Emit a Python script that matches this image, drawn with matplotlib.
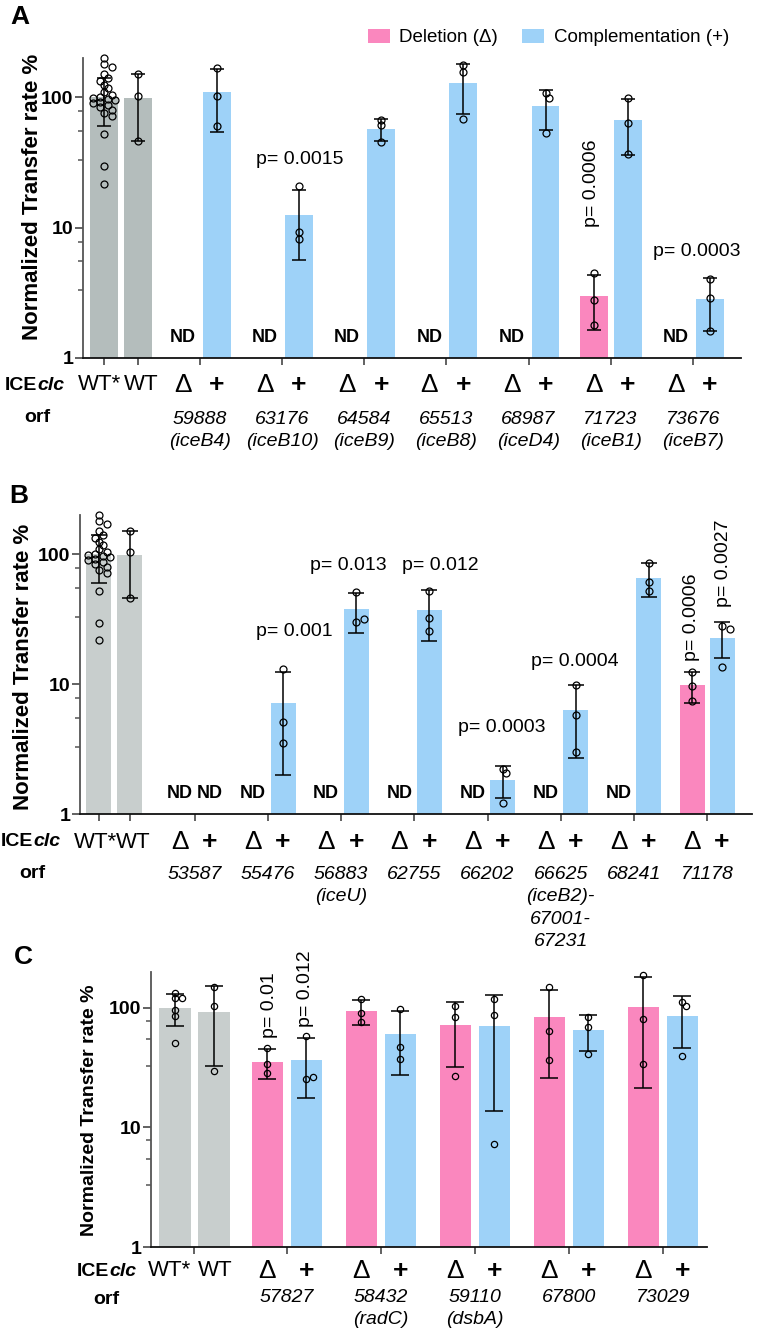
import numpy as np
import matplotlib
matplotlib.use("Agg")
import matplotlib.pyplot as plt
from matplotlib.patches import Patch
from matplotlib.ticker import FixedLocator, NullFormatter

plt.rcParams['font.family'] = ['Liberation Sans', 'DejaVu Sans']

ND = np.nan

# wild type controls (panels A and B share them)
wt_star_pts = [199, 180, 172, 150, 140, 133, 125, 117, 110, 104, 101, 99, 97,
               95, 92, 90, 87, 84, 80, 76, 72, 52, 29.5, 21.7]
wt_star_mean, wt_star_sd = 100, 40
wt_pts = [150, 103, 46]
wt_mean, wt_sd = 98, 52

# panel A
a_orf = ["59888\n(iceB4)", "63176\n(iceB10)", "64584\n(iceB9)", "65513\n(iceB8)",
         "68987\n(iceD4)", "71723\n(iceB1)", "73676\n(iceB7)"]
a_del_mean = [ND, ND, ND, ND, ND, 3.0, ND]
a_del_sd = [0, 0, 0, 0, 0, 1.36, 0]
a_del_pts = [[], [], [], [], [], [4.5, 2.8, 1.8], []]
a_comp_mean = [110, 12.6, 57, 128, 85, 66.5, 2.85]
a_comp_sd = [56, 7, 11, 53, 29, 30.5, 1.23]
a_comp_pts = [[167, 102, 60], [20.7, 9.3, 8.2], [67, 61, 45], [178, 156, 68],
              [107, 98, 53], [98, 64, 37], [4.05, 2.9, 1.6]]
a_pvals = ["p= 0.0015", "p= 0.0006", "p= 0.0003"]

# panel B
b_orf = ["53587", "55476", "56883\n(iceU)", "62755", "66202",
         "66625\n(iceB2)-\n67001-\n67231", "68241", "71178"]
b_del_mean = [ND, ND, ND, ND, ND, ND, ND, 9.8]
b_del_sd = [0, 0, 0, 0, 0, 0, 0, 2.6]
b_del_pts = [[], [], [], [], [], [], [], [12.3, 9.6, 7.4]]
b_comp_mean = [ND, 7.2, 37.5, 37, 1.83, 6.3, 66, 22.8]
b_comp_sd = [0, 5.2, 13, 15.7, 0.5, 3.6, 19, 7]
b_comp_pts = [[], [13.1, 5.1, 3.5], [51, 30, 31.5], [52, 32, 25.4], [2.23, 2.07, 1.22],
              [9.9, 5.8, 3.0], [86, 61, 52], [27.8, 26.3, 13.6]]
b_pvals = ["p= 0.001", "p= 0.013", "p= 0.012", "p= 0.0003", "p= 0.0004",
           "p= 0.0006", "p= 0.0027"]

# panel C
c_wt_star_pts = [133, 121, 121, 96, 86, 51]
c_wt_star_mean, c_wt_star_sd = 100, 30
c_wt_pts = [151, 104, 29.7]
c_wt_mean, c_wt_sd = 93, 60
c_orf = ["57827", "58432\n(radC)", "59110\n(dsbA)", "67800", "73029"]
c_del_mean = [35.3, 94.4, 72, 84, 101.6]
c_del_sd = [9.7, 22, 40, 58, 80]
c_del_pts = [[46, 34, 28.6], [118, 91, 76], [104, 84, 27], [150, 64, 36.7], [188, 81, 34]]
c_comp_mean = [36.7, 60.6, 70.7, 65.5, 86]
c_comp_sd = [19, 33, 57, 21.6, 40]
c_comp_pts = [[58, 25.4, 26.4], [98, 47, 37.5], [118, 87.6, 7.3], [84, 69, 41], [112, 104, 39.7]]
c_pvals = ["p= 0.01", "p= 0.012"]

PINK = '#FA87BE'
BLUE = '#9ED2F8'

W, H = 758, 1332
fig = plt.figure(figsize=(W / 100, H / 100), dpi=100)


def px_axes(l, t, r, b):
    return fig.add_axes([l / W, 1 - b / H, (r - l) / W, (b - t) / H])


def ftext(x, y, s, **kw):
    fig.text(x / W, 1 - y / H, s, **kw)


def swarm(ax, x, vals, d):
    tr = ax.transData
    x0 = tr.transform((x, 1))[0]
    placed, xs = [], []
    for v in vals:
        y = tr.transform((x, v))[1]
        for k in [0, 1, -1, 2, -2, 3, -3, 4, -4, 5, -5]:
            cx = x0 + k * d * 0.45
            if all(np.hypot(cx - px, y - py) >= 0.6 * d for px, py in placed):
                break
        placed.append((cx, y))
        xs.append(tr.inverted().transform((cx, y))[0])
    return xs


def below(ax, x, s, off_px, **kw):
    ax.annotate(s, (x, 0), xycoords=('data', 'axes fraction'),
                xytext=(0, -off_px * 0.72), textcoords='offset points',
                ha='center', annotation_clip=False, **kw)


def draw_panel(ax, xlim, wt_x, wt_lab_x, wt_names, wt_sets, grey, centers, ticks, width,
               ms, cap, orf, dmean, dsd, dpts, cmean, csd, cpts, r1, r2):
    ax.set_yscale('log')
    ax.set_xlim(*xlim)
    ax.set_ylim(1, 200)
    scat = []

    def one(x, m, s, p, color):
        if np.isnan(m):
            ax.annotate('ND', (x, 0), xycoords=('data', 'axes fraction'),
                        xytext=(0, 14.5), textcoords='offset points', ha='center',
                        va='center', fontsize=13, fontweight='bold')
            return
        ax.bar(x, m, width=width, color=color, zorder=1)
        ax.errorbar(x, m, yerr=s, color='black', capsize=cap, elinewidth=1.1,
                    capthick=1.1, zorder=3)
        scat.append((x, p))

    for x, (m, s, p) in zip(wt_x, wt_sets):
        one(x, m, s, p, grey)
    for i, c in enumerate(centers):
        one(c - 0.5, dmean[i], dsd[i], dpts[i], PINK)
        one(c + 0.5, cmean[i], csd[i], cpts[i], BLUE)

    for side in ['top', 'right']:
        ax.spines[side].set_visible(False)
    ax.spines['left'].set_color('#555555')
    ax.spines['bottom'].set_color('#111111')
    for side in ['left', 'bottom']:
        ax.spines[side].set_linewidth(1.3)
    ax.set_yticks([1, 10, 100])
    ax.set_yticklabels(['1', '10', '100'], fontweight='bold', fontsize=14)
    ax.yaxis.set_minor_locator(FixedLocator([3.3, 5.5, 7.8, 33, 55, 78]))
    ax.yaxis.set_minor_formatter(NullFormatter())
    ax.tick_params(axis='y', which='major', length=6, width=1.3, color='#555555', pad=1)
    ax.tick_params(axis='y', which='minor', length=3.5, width=1.1, color='#555555')
    ax.set_xticks(ticks)
    ax.set_xticklabels([])
    ax.tick_params(axis='x', length=5, width=1.3, color='#555555')

    d = ms / 0.72 + 1.5
    for x, vals in scat:
        xs = swarm(ax, x, vals, d)
        ax.plot(xs, vals, 'o', ms=ms, mfc='none', mec='black', mew=0.9,
                zorder=4, clip_on=False)

    for x, s in zip(wt_lab_x, wt_names):
        below(ax, x, s, r1, va='center', fontsize=16)
    for i, c in enumerate(centers):
        below(ax, c - 0.5, '\u0394', r1, va='center', fontsize=19)
        below(ax, c + 0.5, '+', r1, va='center', fontsize=19, fontweight='bold')
        below(ax, c, orf[i], r2, va='top', fontsize=14, style='italic',
              linespacing=1.42)


# panel A
axA = px_axes(83, 58, 741, 358)
centersA = [2.82 + 2.417 * i for i in range(len(a_orf))]
draw_panel(axA, (-0.62, 18.74), [0, 1], [-0.12, 1.08], ['WT*', 'WT'],
           [(wt_star_mean, wt_star_sd, wt_star_pts), (wt_mean, wt_sd, wt_pts)],
           '#B4BDBC', centersA, [0, 1] + centersA, 0.82, 5, 5,
           a_orf, a_del_mean, a_del_sd, a_del_pts, a_comp_mean, a_comp_sd, a_comp_pts,
           27, 53)

# panel B
axB = px_axes(80, 515, 752, 814)
centersB = [3.2 + 2.439 * i for i in range(len(b_orf))]
draw_panel(axB, (-0.63, 21.77), [0, 1.03], [-0.12, 1.14], ['WT*', 'WT'],
           [(wt_star_mean, wt_star_sd, wt_star_pts), (wt_mean, wt_sd, wt_pts)],
           '#C8CECD', centersB, [0, 1.03] + centersB, 0.83, 5, 5.5,
           b_orf, b_del_mean, b_del_sd, b_del_pts, b_comp_mean, b_comp_sd, b_comp_pts,
           28, 52)

# panel C
axC = px_axes(151, 972, 707, 1247)
centersC = [2.87 + 2.41 * i for i in range(len(c_orf))]
draw_panel(axC, (-0.615, 13.64), [0, 1], [-0.13, 1.02], ['WT*', 'WT'],
           [(c_wt_star_mean, c_wt_star_sd, c_wt_star_pts), (c_wt_mean, c_wt_sd, c_wt_pts)],
           '#C8CECD', centersC, [0.5] + centersC, 0.8, 4.5, 6.5,
           c_orf, c_del_mean, c_del_sd, c_del_pts, c_comp_mean, c_comp_sd, c_comp_pts,
           24, 42)

# p values (pixel placement)
pv_pos = [(a_pvals[0], 300, 160, 0), (a_pvals[1], 592, 183, 90), (a_pvals[2], 697, 252, 0),
          (b_pvals[0], 294, 632, 0), (b_pvals[1], 348, 565, 0), (b_pvals[2], 440, 565, 0),
          (b_pvals[3], 502, 728, 0), (b_pvals[4], 575, 661, 0), (b_pvals[5], 691, 617, 90),
          (b_pvals[6], 723, 563, 90), (c_pvals[0], 269, 1005, 90), (c_pvals[1], 306, 989, 90)]
for s, x, y, rot in pv_pos:
    ftext(x, y, s, fontsize=14, rotation=rot, ha='center', va='center')

# panel letters, y labels, row titles
for s, x, y in [('A', 20, 17), ('B', 19, 496), ('C', 23, 957)]:
    ftext(x, y, s, fontsize=19, fontweight='bold', ha='center', va='center')
for x, y, fs in [(33, 197, 16), (24, 667, 16), (89, 1110, 14)]:
    ftext(x, y, 'Normalized Transfer rate %', fontsize=fs, fontweight='bold',
          rotation=90, ha='center', va='center')
for split, y_ice, x_orf, y_orf in [(37, 385, 37, 417), (33, 842, 32, 873), (109, 1272, 106, 1300)]:
    ftext(split, y_ice, 'ICE', fontsize=14, fontweight='bold', ha='right', va='center')
    ftext(split, y_ice, 'clc', fontsize=14, fontweight='bold', style='italic',
          ha='left', va='center')
    ftext(x_orf, y_orf, 'orf', fontsize=14, fontweight='bold', ha='center', va='center')

handles = [Patch(facecolor=PINK, label='Deletion (\u0394)'),
           Patch(facecolor=BLUE, label='Complementation (+)')]
fig.legend(handles=handles, loc='upper left', bbox_to_anchor=(368 / W, 1 - 29 / H),
           ncol=2, frameon=False, fontsize=13.5, handlelength=1.17, handleheight=0.75,
           handletextpad=0.5, columnspacing=1.3, borderpad=0, borderaxespad=0)

fig.savefig('out.png', dpi=100)
